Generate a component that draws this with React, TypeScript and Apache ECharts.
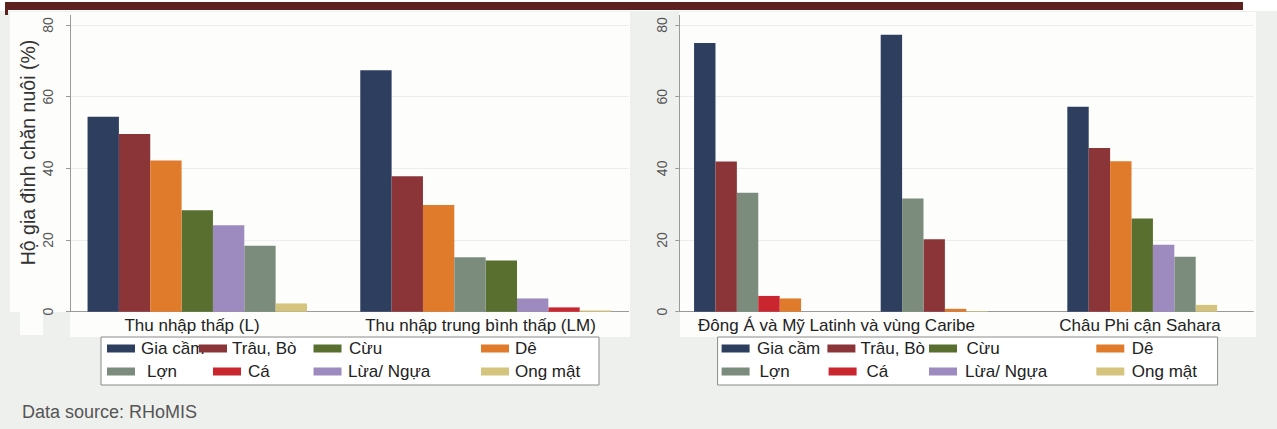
import React, { useEffect, useRef } from 'react';
import * as echarts from 'echarts';

const ANIMALS = ['Gia cầm', 'Trâu, Bò', 'Cừu', 'Dê', 'Lợn', 'Cá', 'Lừa/ Ngựa', 'Ong mật'];
const COLORS = ['#2d3e5e', '#8b3539', '#586f2f', '#e07b2b', '#7b8c7d', '#c9262f', '#9d8abe', '#d4c47e'];

const LEFT_GROUPS = ['Thu nhập thấp (L)', 'Thu nhập trung bình thấp (LM)'];
const LOW_INCOME = [54.4, 49.6, 28.3, 42.2, 18.4, 0, 24.1, 2.3];
const LOWER_MIDDLE = [67.4, 37.8, 14.3, 29.8, 15.2, 1.2, 3.7, 0.3];

const RIGHT_LABELS = ['Đông Á và Mỹ Latinh và vùng Caribe', 'Châu Phi cận Sahara'];
const EAST_ASIA = [75.0, 41.9, 0, 3.7, 33.2, 4.4, 0, 0];
const LATIN_AMERICA = [77.3, 20.2, 0, 0.8, 31.6, 0, 0, 0.2];
const SUB_SAHARAN = [57.2, 45.7, 26.0, 42.0, 15.3, 0, 18.7, 1.9];

const Y_TICKS = [0, 20, 40, 60, 80];
const Y_TITLE = 'Hộ gia đình chăn nuôi (%)';
const SOURCE = 'Data source: RHoMIS';

const FONT = '"Liberation Sans", Arial, sans-serif';
const W = 1277;
const H = 429;
const PLOT_TOP = 25;
const PLOT_BOTTOM = 311.7;

// panel layout (pixels)
const LEFT_PANEL = { left: 70, width: 558.6, outer: 0.56, gap: 0.7, labelMargin: 15 };
const RIGHT_PANEL = { left: 679.3, width: 574, outer: 0.69, gap: 0.72, labelMargin: 10 };

function panelSeries(groups: number[][], axisIndex: number, outer: number, gap: number, slotPx: number) {
  const n = ANIMALS.length;
  const points: number[][][] = ANIMALS.map(() => []);
  groups.forEach((vals, g) => {
    const order = vals.map((_, i) => i).sort((a, b) => vals[b] - vals[a]);
    order.forEach((ai, rank) => {
      points[ai].push([outer + g * (n + gap) + rank + 0.5, vals[ai]]);
    });
  });
  return ANIMALS.map((name, i) => ({
    type: 'bar',
    name,
    xAxisIndex: axisIndex,
    yAxisIndex: axisIndex,
    data: points[i],
    barWidth: slotPx,
    barGap: '-100%',
    itemStyle: { color: COLORS[i] },
  }));
}

function xMax(groupCount: number, outer: number, gap: number) {
  return 2 * outer + groupCount * ANIMALS.length + (groupCount - 1) * gap;
}

// legend layout: [swatchLeft, textLeft, row]
const LEFT_LEGEND: number[][] = [
  [107, 141, 0], [199, 232, 0], [313.5, 349, 0], [481, 515, 0],
  [107, 147, 1], [213, 248, 1], [313.5, 348, 1], [481, 515, 1],
];
const RIGHT_LEGEND: number[][] = [
  [721.6, 757, 0], [827.4, 860.4, 0], [929, 966.5, 0], [1096.3, 1131.8, 0],
  [721.6, 759.6, 1], [828.6, 866.5, 1], [929, 965, 1], [1096.3, 1131.8, 1],
];
const ROW_CENTERS = [348.5, 371.5];

function legends(layout: number[][]) {
  return layout.map((l, i) => {
    let sw = l[0];
    let pad = l[1] - sw - 33;
    if (pad < 0) {
      sw = l[1] - 33;
      pad = 0;
    }
    return {
      data: [ANIMALS[i]],
      left: sw,
      top: ROW_CENTERS[l[2]] - 10,
      padding: 0,
      itemWidth: 28,
      itemHeight: 8,
      icon: 'rect',
      selectedMode: false,
      textStyle: { fontSize: 17, color: '#222', lineHeight: 20, padding: [0, 0, 0, pad], fontFamily: FONT },
    };
  });
}

function yAxis(gridIndex: number, margin: number) {
  return {
    type: 'value',
    gridIndex,
    min: Y_TICKS[0],
    max: Y_TICKS[Y_TICKS.length - 1],
    interval: Y_TICKS[1] - Y_TICKS[0],
    axisLine: { show: true, lineStyle: { color: '#9a9a9a', width: 1 } },
    axisTick: { show: true, length: 4, lineStyle: { color: '#9a9a9a' } },
    axisLabel: { rotate: 90, fontSize: 14, color: '#555', margin, fontFamily: FONT },
    splitLine: { show: true, lineStyle: { color: '#ededed', width: 1 } },
  };
}

function xAxis(gridIndex: number, max: number) {
  return {
    type: 'value',
    gridIndex,
    min: 0,
    max,
    axisLine: { show: true, onZero: false, lineStyle: { color: '#9a9a9a', width: 1 } },
    axisTick: { show: false },
    axisLabel: { show: false },
    splitLine: { show: false },
  };
}

export default function App() {
  const ref = useRef<HTMLDivElement>(null);
  useEffect(() => {
    if (!ref.current) return;
    const chart = echarts.init(ref.current, undefined, { renderer: 'svg' });
    const lMax = xMax(2, LEFT_PANEL.outer, LEFT_PANEL.gap);
    const rMax = xMax(3, RIGHT_PANEL.outer, RIGHT_PANEL.gap);
    const lSlot = LEFT_PANEL.width / lMax;
    const rSlot = RIGHT_PANEL.width / rMax;
    const bottom = H - PLOT_BOTTOM;

    const bgRect = (x: number, y: number, w: number, h: number, fill: string) => ({
      type: 'rect', z: -10, shape: { x, y, width: w, height: h }, style: { fill }, silent: true,
    });
    const label = (text: string, x: number, y: number) => ({
      type: 'text', z: 10, x, y,
      style: { text, fontSize: 17, fill: '#222', fontFamily: FONT, align: 'center', verticalAlign: 'middle' },
    });

    chart.setOption({
      animation: false,
      backgroundColor: '#eef0ee',
      grid: [
        { left: LEFT_PANEL.left, width: LEFT_PANEL.width, top: PLOT_TOP, bottom, containLabel: false },
        { left: RIGHT_PANEL.left, width: RIGHT_PANEL.width, top: PLOT_TOP, bottom, containLabel: false },
      ],
      xAxis: [xAxis(0, lMax), xAxis(1, rMax)],
      yAxis: [yAxis(0, LEFT_PANEL.labelMargin), yAxis(1, RIGHT_PANEL.labelMargin)],
      legend: [...legends(LEFT_LEGEND), ...legends(RIGHT_LEGEND)],
      series: [
        ...panelSeries([LOW_INCOME, LOWER_MIDDLE], 0, LEFT_PANEL.outer, LEFT_PANEL.gap, lSlot),
        ...panelSeries([EAST_ASIA, LATIN_AMERICA, SUB_SAHARAN], 1, RIGHT_PANEL.outer, RIGHT_PANEL.gap, rSlot),
      ],
      graphic: [
        bgRect(0, 0, W, 11, '#ffffff'),
        bgRect(5, 2, 1238, 8, '#5d2120'),
        bgRect(5, 10, 3, 5, '#5d2120'),
        bgRect(10, 12, 620, 300, '#fdfdfc'),
        bgRect(20, 312, 23, 23, '#fdfdfc'),
        bgRect(70, 312, 560, 25, '#fdfdfc'),
        bgRect(679, 12, 577, 300, '#fdfdfc'),
        bgRect(680, 312, 576, 25, '#fdfdfc'),
        {
          type: 'rect', z: -5, shape: { x: 101, y: 337, width: 498, height: 48 },
          style: { fill: '#ffffff', stroke: '#8a8a8a', lineWidth: 1 }, silent: true,
        },
        {
          type: 'rect', z: -5, shape: { x: 717.6, y: 337, width: 500, height: 48 },
          style: { fill: '#ffffff', stroke: '#8a8a8a', lineWidth: 1 }, silent: true,
        },
        { type: 'line', z: 5, shape: { x1: 70.5, y1: 15, x2: 70.5, y2: 25 }, style: { stroke: '#9a9a9a', lineWidth: 1 } },
        { type: 'line', z: 5, shape: { x1: 679.5, y1: 15, x2: 679.5, y2: 25 }, style: { stroke: '#9a9a9a', lineWidth: 1 } },
        label(LEFT_GROUPS[0], 192, 325),
        label(LEFT_GROUPS[1], 480.5, 325),
        label(RIGHT_LABELS[0], 836.5, 325),
        label(RIGHT_LABELS[1], 1140, 325),
        {
          type: 'text', z: 10, x: 27.5, y: 152.5, rotation: Math.PI / 2,
          style: { text: Y_TITLE, fontSize: 19.5, fill: '#333', fontFamily: FONT, align: 'center', verticalAlign: 'middle' },
        },
        {
          type: 'text', z: 10, x: 22, y: 411.5,
          style: { text: SOURCE, fontSize: 18, fill: '#555', fontFamily: FONT, align: 'left', verticalAlign: 'middle' },
        },
      ],
    });
    return () => chart.dispose();
  }, []);
  return <div ref={ref} style={{ position: 'absolute', left: 0, top: 0, width: W, height: H }} />;
}
